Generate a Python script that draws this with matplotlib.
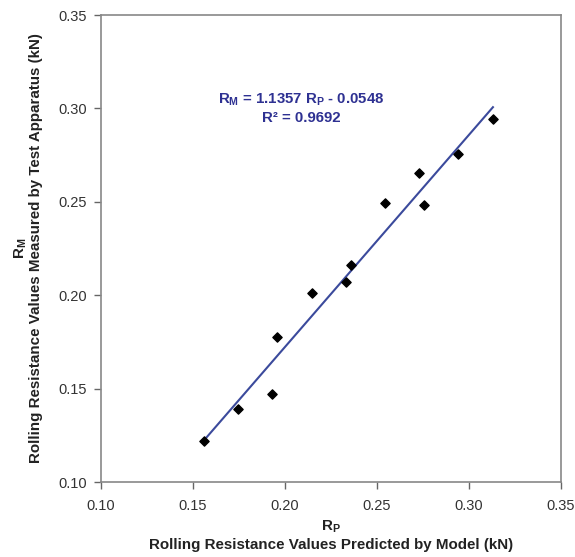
import matplotlib
matplotlib.use("Agg")
import matplotlib.pyplot as plt
import numpy as np

plt.rcParams['font.family'] = ['Liberation Sans', 'DejaVu Sans']
plt.rcParams['mathtext.fontset'] = 'custom'
plt.rcParams['mathtext.rm'] = 'Liberation Sans'
plt.rcParams['mathtext.bf'] = 'Liberation Sans:bold'
plt.rcParams['mathtext.it'] = 'Liberation Sans:italic'

rp = [0.1557, 0.1742, 0.1927, 0.1954, 0.2144, 0.2329, 0.2356, 0.2541, 0.2726, 0.2758, 0.2940, 0.3130]
rm = [0.1220, 0.1390, 0.1470, 0.1776, 0.2012, 0.2070, 0.2162, 0.2494, 0.2654, 0.2483, 0.2756, 0.2943]
slope = 1.1357
intercept = -0.0548
r2 = 0.9692
ticks = [0.10, 0.15, 0.20, 0.25, 0.30, 0.35]

fig = plt.figure(figsize=(5.75, 5.57), dpi=100)
ax = fig.add_axes([0.1757, 0.1346, 0.8, 0.8384])

xl = np.array([min(rp), max(rp)])
ax.plot(xl, slope * xl + intercept, color='#3b4a9c', lw=1.5, zorder=2)
ax.scatter(rp, rm, marker='D', s=22, color='black', zorder=3)

ax.set_xlim(0.10, 0.35)
ax.set_ylim(0.10, 0.35)
ax.set_xticks(ticks)
ax.set_yticks(ticks)
ax.set_xticklabels([f"{t:.2f}" for t in ticks])
ax.set_yticklabels([f"{t:.2f}" for t in ticks])
ax.tick_params(direction='out', length=5, width=1, colors='#666666', labelcolor='#333333', labelsize=10.5)
ax.tick_params(axis='y', pad=5)
ax.tick_params(axis='x', pad=7.5)
for s in ax.spines.values():
    s.set_color('#888888')
    s.set_linewidth(1.2)

ax.set_xlabel("$\\mathbf{R_P}$\nRolling Resistance Values Predicted by Model (kN)",
              fontsize=10.9, fontweight='bold', color='#222222', labelpad=4, linespacing=1.25)
ax.set_ylabel("$\\mathbf{R_M}$\nRolling Resistance Values Measured by Test Apparatus (kN)",
              fontsize=10.9, fontweight='bold', color='#222222', labelpad=11.5, linespacing=1.0)

ax.text(0.209, 0.3045, "$\\mathbf{R_M}$ = 1.1357 $\\mathbf{R_P}$ - 0.0548",
        ha='center', va='center', fontsize=10.8, fontweight='bold', color='#2e3192')
ax.text(0.209, 0.2949, f"R\u00b2 = {r2:.4f}",
        ha='center', va='center', fontsize=10.8, fontweight='bold', color='#2e3192')

fig.savefig("out.png", dpi=100)
